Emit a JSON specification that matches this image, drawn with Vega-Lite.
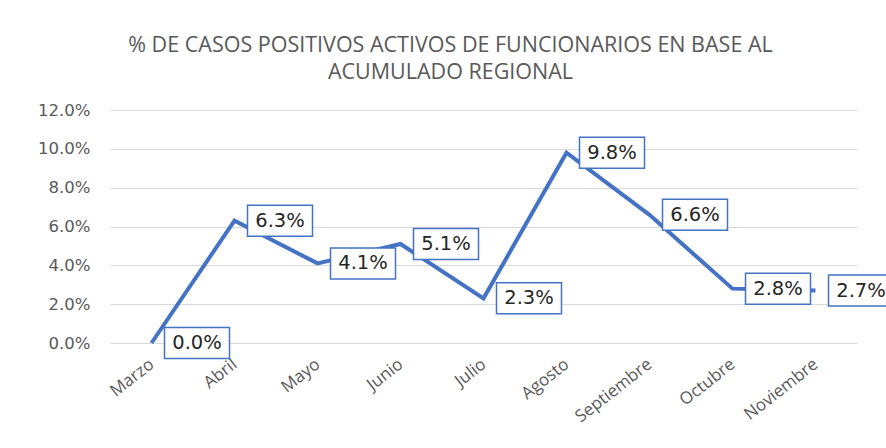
{
  "$schema": "https://vega.github.io/schema/vega-lite/v6.json",
  "autosize": "none",
  "width": 747,
  "height": 233,
  "padding": {"left": 110, "top": 110, "right": 29, "bottom": 105},
  "background": "white",
  "config": {"view": {"stroke": null}},
  "title": {
    "text": ["% DE CASOS POSITIVOS ACTIVOS DE FUNCIONARIOS EN BASE AL", "ACUMULADO REGIONAL"],
    "anchor": "middle",
    "frame": "group",
    "dx": -33,
    "offset": 19,
    "font": "Open Sans",
    "fontSize": 21.5,
    "fontWeight": "normal",
    "color": "#595959",
    "lineHeight": 27
  },
  "data": {
    "values": [
      {"mes": "Marzo", "valor": 0.0},
      {"mes": "Abril", "valor": 0.063},
      {"mes": "Mayo", "valor": 0.041},
      {"mes": "Junio", "valor": 0.051},
      {"mes": "Julio", "valor": 0.023},
      {"mes": "Agosto", "valor": 0.098},
      {"mes": "Septiembre", "valor": 0.066},
      {"mes": "Octubre", "valor": 0.028},
      {"mes": "Noviembre", "valor": 0.027}
    ]
  },
  "encoding": {
    "x": {
      "field": "mes",
      "type": "nominal",
      "sort": null,
      "scale": {"type": "point", "padding": 0.5},
      "axis": {
        "title": null,
        "labelAngle": -38,
        "labelAlign": "right",
        "labelBaseline": "middle",
        "labelPadding": 19,
        "labelFont": "Open Sans",
        "labelFontSize": 17,
        "labelColor": "#595959",
        "domain": false,
        "ticks": false,
        "grid": false
      }
    },
    "y": {
      "field": "valor",
      "type": "quantitative",
      "scale": {"domain": [0, 0.12], "nice": false},
      "axis": {
        "title": null,
        "values": [0, 0.02, 0.04, 0.06, 0.08, 0.10, 0.12],
        "format": ".1%",
        "labelPadding": 20,
        "labelFont": "DejaVu Sans",
        "labelFontSize": 16.5,
        "labelColor": "#595959",
        "domain": false,
        "ticks": false,
        "grid": true,
        "gridColor": "#d9d9d9",
        "gridWidth": 1
      }
    }
  },
  "layer": [
    {
      "mark": {"type": "line", "color": "#4472C4", "strokeWidth": 4, "strokeJoin": "miter"}
    },
    {
      "mark": {
        "type": "point",
        "shape": "M0.4,-0.477L2.4,-0.477L2.4,0.477L0.4,0.477Z",
        "size": 4225,
        "filled": true,
        "fill": "white",
        "stroke": "#4472C4",
        "strokeWidth": 1.5,
        "opacity": 1
      }
    },
    {
      "mark": {
        "type": "text",
        "dx": 45.5,
        "align": "center",
        "baseline": "middle",
        "font": "DejaVu Sans",
        "fontSize": 19.5,
        "color": "#262626"
      },
      "encoding": {
        "text": {"field": "valor", "type": "quantitative", "format": ".1%"}
      }
    }
  ]
}
